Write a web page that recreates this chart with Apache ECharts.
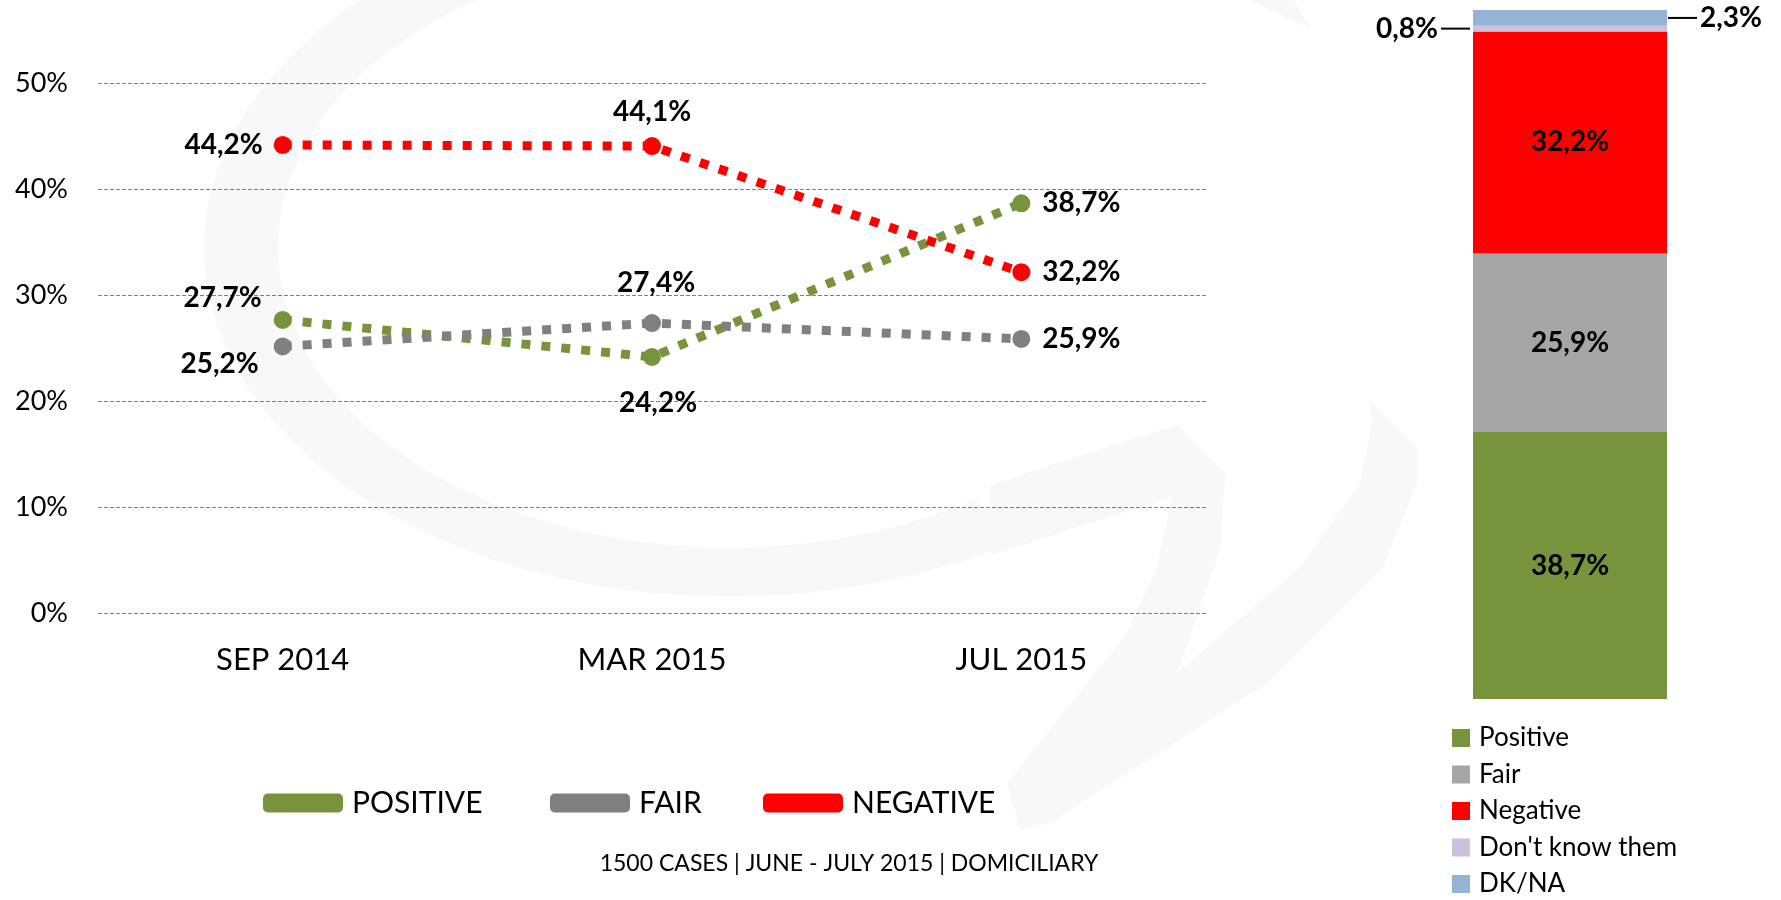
<!DOCTYPE html>
<html>
<head>
<meta charset="utf-8">
<script src="https://cdn.jsdelivr.net/npm/echarts@6/dist/echarts.min.js"></script>
<style>
html,body{margin:0;padding:0;background:#fff;}
#c{width:1781px;height:900px;}
</style>
</head>
<body>
<div id="c"></div>
<script>
const categories = ['SEP 2014', 'MAR 2015', 'JUL 2015'];
const positive = [27.7, 24.2, 38.7];
const fair = [25.2, 27.4, 25.9];
const negative = [44.2, 44.1, 32.2];
const lineNames = ['POSITIVE', 'FAIR', 'NEGATIVE'];
const barNames = ['Positive', 'Fair', 'Negative', "Don't know them", 'DK/NA'];
const barValues = [38.7, 25.9, 32.2, 0.8, 2.3];
const footer = '1500 CASES | JUNE - JULY 2015 | DOMICILIARY';

const FONT = 'Lato';
const fmt = v => v.toFixed(1).replace('.', ',') + '%';
const lblBase = {show: true, fontFamily: FONT, fontSize: 28, fontWeight: 'bold', color: '#000', formatter: p => fmt(p.value)};

const posLabels = [
  {position: 'left', distance: 12, offset: [0, -22]},
  {position: 'bottom', distance: 23, offset: [6, 0]},
  {position: 'right', distance: 12}
];
const fairLabels = [
  {position: 'left', distance: 15, offset: [0, 18]},
  {position: 'top', distance: 17, offset: [4, 0]},
  {position: 'right', distance: 12}
];
const negLabels = [
  {position: 'left', distance: 11},
  {position: 'top', distance: 11},
  {position: 'right', distance: 12}
];

function lineSeries(name, data, color, labels) {
  return {
    name: name, type: 'line', xAxisIndex: 0, yAxisIndex: 0,
    data: data.map((v, i) => ({value: v, label: labels[i]})),
    symbol: 'circle', symbolSize: 18,
    itemStyle: {color: color},
    lineStyle: {color: color, width: 9, type: [9, 11], cap: 'butt'},
    label: Object.assign({}, lblBase),
    z: 3
  };
}

const barColors = ['#77933C', '#A6A6A6', '#FF0000', '#CCC1DA', '#95B3D7'];
const barSeries = barNames.map((n, i) => {
  let label;
  if (i < 3) {
    label = {show: true, position: 'inside', fontFamily: FONT, fontSize: 28, fontWeight: 'bold', color: '#000', formatter: p => fmt(p.value)};
  } else if (i === 3) {
    label = {show: true, position: 'left', distance: 3, formatter: p => '{t|' + fmt(p.value) + '}{l|}',
      rich: {t: {fontFamily: FONT, fontSize: 28, fontWeight: 'bold', color: '#000', verticalAlign: 'middle', padding: [0, 3, 0, 0]},
             l: {width: 29, height: 2, backgroundColor: '#000', verticalAlign: 'middle'}}};
  } else {
    label = {show: true, position: 'right', distance: 1, formatter: p => '{l|}{t|' + fmt(p.value) + '}',
      rich: {t: {fontFamily: FONT, fontSize: 28, fontWeight: 'bold', color: '#000', verticalAlign: 'middle', padding: [0, 0, 0, 3]},
             l: {width: 29, height: 2, backgroundColor: '#000', verticalAlign: 'middle'}}};
  }
  return {
    name: n, type: 'bar', stack: 'total', xAxisIndex: 1, yAxisIndex: 1,
    data: [barValues[i]], barWidth: '100%',
    itemStyle: {color: barColors[i]}, label: label
  };
});

// faint background watermark (decoration only)
const WM = '#F8F8F8';
const deg = Math.PI / 180;
const wmSwoosh = [[990, 485], [1178, 425], [1225, 475], [1220, 550], [1177, 673], [1300, 567], [1360, 483], [1372, 423],
  [1370, 400], [1417, 447], [1417, 483], [1383, 567], [1267, 683], [1050, 823], [1020, 830], [1007, 783],
  [1127, 633], [1157, 567], [1172, 497], [990, 555]];

const option = {
  backgroundColor: '#fff',
  animation: false,
  textStyle: {fontFamily: FONT},
  graphic: [
    {type: 'arc', silent: true, z: -10, x: 730, y: 248, scaleY: 0.663,
     shape: {cx: 0, cy: 0, r: 489, startAngle: 57 * deg, endAngle: 236 * deg, clockwise: true},
     style: {stroke: WM, lineWidth: 74, fill: null}},
    {type: 'polygon', silent: true, z: -10, shape: {points: wmSwoosh, smooth: 0}, style: {fill: WM}},
    {type: 'polygon', silent: true, z: -10, shape: {points: [[1250, 0], [1293, 0], [1313, 30]]}, style: {fill: WM}}
  ],
  grid: [
    {left: 98, right: 575, top: 83.5, bottom: 286.5},
    {left: 1473, width: 194, top: 10, bottom: 201}
  ],
  xAxis: [
    {type: 'category', gridIndex: 0, data: categories, boundaryGap: true,
     axisLine: {show: false}, axisTick: {show: false},
     axisLabel: {fontFamily: FONT, fontSize: 31, color: '#000', margin: 31}},
    {type: 'category', gridIndex: 1, data: ['x'], show: false}
  ],
  yAxis: [
    {type: 'value', gridIndex: 0, min: 0, max: 50, interval: 10,
     axisLine: {show: false}, axisTick: {show: false},
     axisLabel: {fontFamily: FONT, fontSize: 27, color: '#000', margin: 30, formatter: '{value}%'},
     splitLine: {lineStyle: {color: '#808080', width: 1, type: [4, 2]}}},
    {type: 'value', gridIndex: 1, min: 0, max: 99.9, show: false}
  ],
  legend: [
    {orient: 'horizontal', left: 258, top: 783, itemWidth: 80, itemHeight: 19, itemGap: 0,
     icon: 'roundRect',
     itemStyle: {borderWidth: 0},
     lineStyle: {width: 0},
     textStyle: {fontFamily: FONT, fontSize: 30, color: '#000', lineHeight: 30, padding: [0, 0, 0, 4]},
     data: [
       {name: 'POSITIVE', textStyle: {width: 198}},
       {name: 'FAIR', textStyle: {width: 124}},
       {name: 'NEGATIVE', textStyle: {width: 160}}
     ]},
    {orient: 'vertical', left: 1452, top: 725, height: 300, padding: 0, itemWidth: 18, itemHeight: 18, itemGap: 10.5,
     icon: 'rect',
     textStyle: {fontFamily: FONT, fontSize: 26, color: '#000', lineHeight: 24, padding: [0, 0, 0, 4]},
     data: barNames}
  ],
  title: {text: footer, left: 844, top: 847, textAlign: 'center',
    textStyle: {fontFamily: FONT, fontSize: 23, fontWeight: 'normal', color: '#000'}},
  series: [
    lineSeries(lineNames[0], positive, '#77933C', posLabels),
    lineSeries(lineNames[1], fair, '#808080', fairLabels),
    lineSeries(lineNames[2], negative, '#FF0000', negLabels)
  ].concat(barSeries)
};

const chart = echarts.init(document.getElementById('c'), null, {renderer: 'canvas'});
chart.setOption(option);
</script>
</body>
</html>
